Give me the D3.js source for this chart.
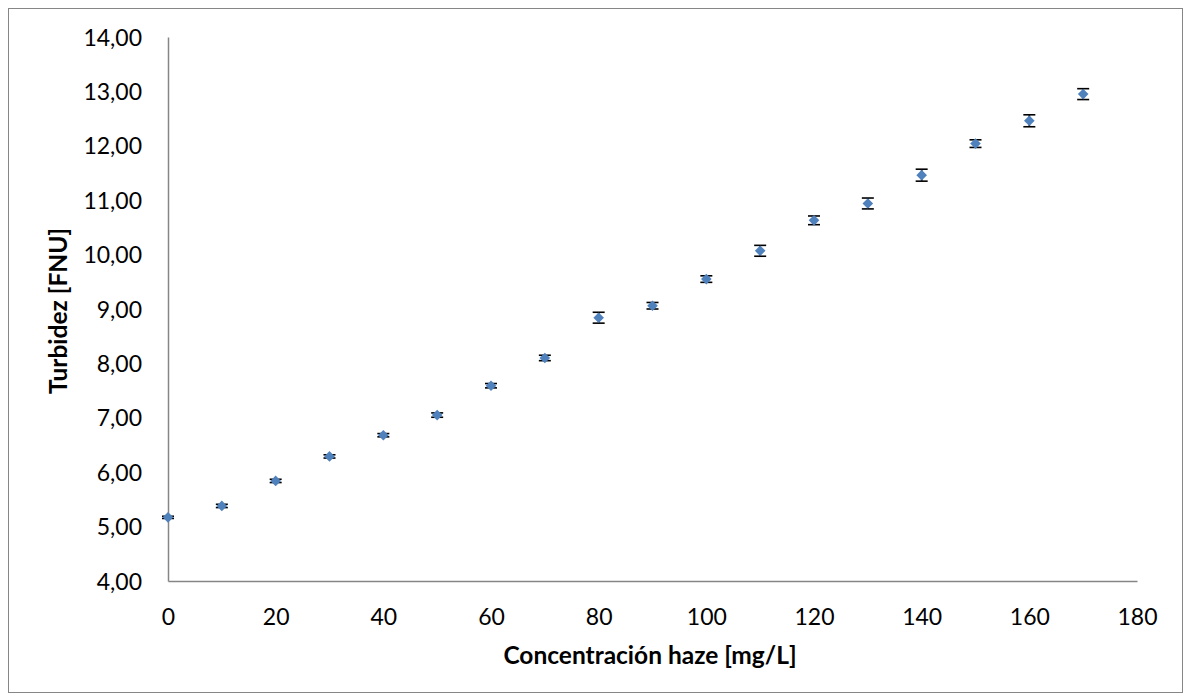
<!DOCTYPE html>
<html>
<head>
<meta charset="utf-8">
<script src="https://cdn.jsdelivr.net/npm/d3@7"></script>
<style>
  body { margin: 0; background: #fff; }
  svg { display: block; }
  text { font-family: Lato, "Open Sans", sans-serif; fill: #000; }
</style>
</head>
<body>
<svg id="chart" width="1187" height="700"></svg>
<script>
const concentration = [0, 10, 20, 30, 40, 50, 60, 70, 80, 90, 100, 110, 120, 130, 140, 150, 160, 170];
const turbidity = [5.17, 5.38, 5.84, 6.29, 6.68, 7.05, 7.59, 8.10, 8.84, 9.06, 9.55, 10.07, 10.63, 10.94, 11.46, 12.04, 12.46, 12.95];
const errors = [0.02, 0.03, 0.03, 0.03, 0.03, 0.04, 0.04, 0.05, 0.10, 0.06, 0.06, 0.10, 0.08, 0.10, 0.11, 0.07, 0.11, 0.10];
const xTicks = [0, 20, 40, 60, 80, 100, 120, 140, 160, 180];
const yTicks = [4, 5, 6, 7, 8, 9, 10, 11, 12, 13, 14];
const xTitle = "Concentración haze [mg/L]";
const yTitle = "Turbidez [FNU]";

const svg = d3.select("#chart");
const plotL = 168, plotR = 1137, plotT = 37, plotB = 581;

// outer frame
svg.append("rect").attr("x", 8.5).attr("y", 8.5).attr("width", 1174).attr("height", 684)
  .attr("fill", "#fff").attr("stroke", "#868686").attr("stroke-width", 1);

const x = d3.scaleLinear().domain([0, 180]).range([plotL, plotR]);
const y = d3.scaleLinear().domain([4, 14]).range([plotB, plotT]);

const fmt = d => d.toFixed(2).replace(".", ",");

const xAxis = svg.append("g").attr("transform", `translate(0,${plotB})`)
  .call(d3.axisBottom(x).tickValues(xTicks).tickSize(0).tickPadding(24).tickFormat(d3.format("d")));
const yAxis = svg.append("g").attr("transform", `translate(${plotL},0)`)
  .call(d3.axisLeft(y).tickValues(yTicks).tickSize(0).tickPadding(26).tickFormat(fmt));
[xAxis, yAxis].forEach(g => {
  g.select(".domain").attr("stroke", "#868686").attr("stroke-width", 1.5);
  g.selectAll("text").style("font-family", "Lato, sans-serif").style("font-size", "23px").attr("fill", "#000");
});
xAxis.selectAll("text").attr("dy", "0.35em").attr("y", 36);
yAxis.selectAll("text").attr("dy", "0.35em");

const data = concentration.map((c, i) => ({ c, v: turbidity[i], e: errors[i] }));

// error bars
const eb = svg.append("g").attr("stroke", "#000").attr("stroke-width", 1.6);
data.forEach(d => {
  const cx = x(d.c);
  eb.append("line").attr("x1", cx).attr("x2", cx).attr("y1", y(d.v + d.e)).attr("y2", y(d.v - d.e));
  eb.append("line").attr("x1", cx - 6).attr("x2", cx + 6).attr("y1", y(d.v + d.e)).attr("y2", y(d.v + d.e));
  eb.append("line").attr("x1", cx - 6).attr("x2", cx + 6).attr("y1", y(d.v - d.e)).attr("y2", y(d.v - d.e));
});

// markers
svg.append("g").selectAll("path").data(data).join("path")
  .attr("d", d3.symbol().type(d3.symbolDiamond2).size(72))
  .attr("transform", d => `translate(${x(d.c)},${y(d.v)})`)
  .attr("fill", "#4F81BD");

// titles
svg.append("text").attr("x", 650).attr("y", 655).attr("dy", "0.35em")
  .attr("text-anchor", "middle").style("font-size", "24.5px").style("font-weight", "bold").text(xTitle);
svg.append("text").attr("transform", "translate(58,311) rotate(-90)").attr("dy", "0.35em")
  .attr("text-anchor", "middle").style("font-size", "24.5px").style("font-weight", "bold").text(yTitle);
</script>
</body>
</html>
